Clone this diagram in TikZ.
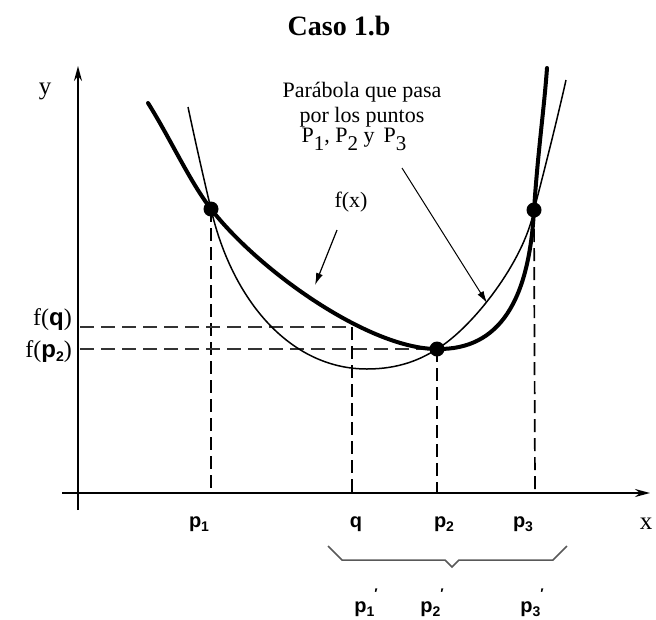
\documentclass[tikz,border=0pt]{standalone}
\usepackage{fontspec}
\setmainfont{Liberation Serif}
\newfontfamily\sanf{Liberation Sans}
\usetikzlibrary{arrows.meta}
\newcommand\lsub[1]{\raisebox{-4pt}{\fontsize{14}{14}\selectfont #1}}
\newcommand\ssub[1]{\raisebox{-8pt}{\fontsize{21}{21}\selectfont #1}}
\newcommand\prm{\raisebox{14pt}{\fontsize{14}{14}\selectfont ′}}
\begin{document}
\begin{tikzpicture}[x=1pt,y=-1pt,
  axis/.style={line width=1.8pt,-{Stealth[length=15pt,width=8pt]}},
  thickcurve/.style={line width=4pt,line join=round,line cap=round},
  thincurve/.style={line width=1.5pt},
  dashv/.style={line width=1.7pt,dash pattern=on 13pt off 6pt},
  dashh/.style={line width=1.3pt,dash pattern=on 14pt off 7pt,black!80},
  dot/.style={circle,fill,inner sep=0pt,minimum size=15pt},
  lbl/.style={font=\fontsize{23}{27}\selectfont,inner sep=0pt,anchor=base},
  plbl/.style={font=\sanf\bfseries\fontsize{20}{24}\selectfont,inner sep=0pt,anchor=base},
  note/.style={font=\fontsize{22}{26}\selectfont,inner sep=0pt,anchor=base},
  pointer/.style={line width=1.2pt,-{Latex[length=12pt,width=7pt]}},
  bracestyle/.style={line width=1.5pt,black!65,line join=miter}]
\useasboundingbox (0,0) rectangle (656,619);

% title
\node[lbl,font=\bfseries\fontsize{28}{31}\selectfont] (title) at (339,35) {Caso 1.b};

% axes
\coordinate (xs) at (62,493);
\coordinate (xe) at (650,493);
\coordinate (ys) at (78,510);
\coordinate (ye) at (78,66);
\draw[axis] (xs) -- (xe);
\draw[axis] (ys) -- (ye);
\node[lbl,font=\fontsize{25}{28}\selectfont] (ylab) at (45,94) {y};
\node[lbl,font=\fontsize{25}{28}\selectfont] (xlab) at (646,529) {x};

% key points
\node[dot] (P1) at (211,209) {};
\node[dot] (P2) at (437,349) {};
\node[dot] (P3) at (534,210) {};
\coordinate (Q) at (352,327);

\coordinate (a1) at (211,493);
\coordinate (aq) at (352,493);
\coordinate (a2) at (437,493);
\coordinate (a3) at (535,493);
\coordinate (yq) at (80,327);
\coordinate (y2) at (80,349);

% dashed guides
\draw[dashv] (P1.center) -- (a1);
\draw[dashv] (Q) -- (aq);
\draw[dashv] (P2.center) -- (a2);
\draw[dashv] (P3.center) -- (a3);
\draw[dashh] (yq) -- (Q);
\draw[dashh] (y2) -- (P2.center);

% thin parabola
\draw[thincurve] (188,107) .. controls (195,140) and (204,180) .. (P1.center)
  .. controls (232,300) and (290,369) .. (367,369)
  .. controls (398,369) and (420,360) .. (P2.center)
  .. controls (472,328) and (524,262) .. (P3.center)
  .. controls (545,168) and (557,120) .. (566,80);

% thick f(x)
\draw[thickcurve] (148,103) .. controls (170,138) and (190,182) .. (P1.center)
  .. controls (260,272) and (370,349) .. (P2.center)
  .. controls (500,350) and (529,300) .. (P3.center)
  .. controls (538,150) and (544,110) .. (547,68);

% labels of curves
\node[note] (fx) at (351,207) {f(x)};
\coordinate (fxs) at (337,230);
\coordinate (fxe) at (315,285);
\draw[pointer] (fxs) -- (fxe);

\node[note] (n1) at (362,97) {Parábola que pasa};
\node[note] (n2) at (362,122) {por los puntos};
\node[note] (n3) at (354,142) {P\ssub{1}, P\ssub{2} y\, P\ssub{3}};
\coordinate (ps) at (402,168);
\coordinate (pe) at (487,303);
\draw[pointer,line width=1pt] (ps) -- (pe);

% y-axis labels
\node[lbl,anchor=base east,font=\fontsize{24}{28}\selectfont] (fq) at (72,325) {f({\sanf\bfseries q})};
\node[lbl,anchor=base east,font=\fontsize{24}{28}\selectfont] (fp2) at (72,357) {f({\sanf\bfseries p\lsub{2}})};

% x-axis labels
\node[plbl] (lp1) at (199,527) {p\lsub{1}};
\node[plbl] (lq) at (356,527) {q};
\node[plbl] (lp2) at (444,527) {p\lsub{2}};
\node[plbl] (lp3) at (523,527) {p\lsub{3}};

% brace
\draw[bracestyle] (328,546) -- (342,560) -- (445,560) -- (452,567) -- (459,560) -- (553,560) -- (567,546);

\node[plbl] (b1) at (366,612) {p\lsub{1}\prm};
\node[plbl] (b2) at (432,612) {p\lsub{2}\prm};
\node[plbl] (b3) at (532,612) {p\lsub{3}\prm};
\end{tikzpicture}
\end{document}
